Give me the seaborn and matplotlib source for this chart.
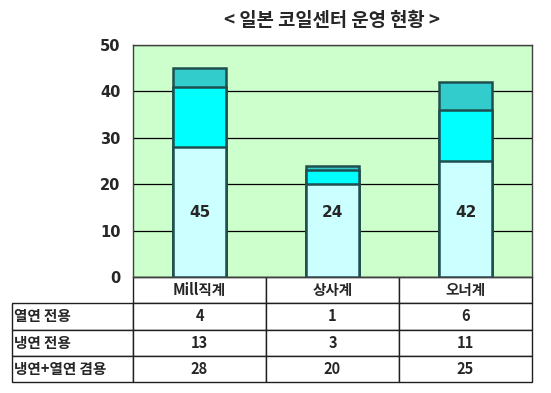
import matplotlib
matplotlib.use('Agg')
import matplotlib.pyplot as plt
import seaborn as sns
import pandas as pd

# data
categories = ['Mill직계', '상사계', '오너계']
series_names = ['열연 전용', '냉연 전용', '냉연+열연 겸용']
hot_only = [4, 1, 6]
cold_only = [13, 3, 11]
combined = [28, 20, 25]
totals = [45, 24, 42]

sns.set_style('white')
plt.rcParams['font.family'] = ['Noto Sans CJK KR', 'DejaVu Sans']
plt.rcParams['font.weight'] = 'bold'

fig = plt.figure(figsize=(5.51, 3.93), dpi=100)
ax = fig.add_axes([133 / 551, 1 - 277 / 393, 399 / 551, 232 / 393])
ax.set_facecolor('#CCFFCC')

df = pd.DataFrame({'cat': categories, 'combined': combined,
                   'cold': cold_only, 'hot': hot_only})
df['mid'] = df['combined'] + df['cold']
df['top'] = df['mid'] + df['hot']

# stacked look: draw the cumulative heights from tallest to shortest
layers = [('top', '#33CCCC'), ('mid', '#00FFFF'), ('combined', '#CCFFFF')]
for col, color in layers:
    sns.barplot(data=df, x='cat', y=col, color=color, width=0.4,
                edgecolor='#1F4F4F', linewidth=1.8, saturation=1, ax=ax, zorder=3)

for i, t in enumerate(totals):
    ax.text(i, 14, str(t), ha='center', va='center', fontsize=11,
            fontweight='bold', family='DejaVu Sans', zorder=5)

ax.set_ylim(0, 50)
ax.set_xlim(-0.5, 2.5)
ax.set_yticks(range(0, 51, 10))
ax.set_yticklabels([str(v) for v in range(0, 51, 10)], fontsize=10.5,
                   fontweight='bold', family='DejaVu Sans')
ax.tick_params(axis='y', length=0, pad=9)
ax.set_xticks([])
ax.set_xlabel('')
ax.set_ylabel('')
ax.yaxis.grid(True, color='black', linewidth=0.9, zorder=0)
ax.set_axisbelow(True)
for s in ax.spines.values():
    s.set_color('#404040')
    s.set_linewidth(1.0)

# data table under the plot
rows = [[''] + categories]
rows.append([series_names[0]] + [str(v) for v in hot_only])
rows.append([series_names[1]] + [str(v) for v in cold_only])
rows.append([series_names[2]] + [str(v) for v in combined])

left = (12 - 133) / 399
tab = ax.table(cellText=rows, colWidths=[121, 133, 133, 133],
               bbox=[left, (277 - 382) / 232, 1 - left, 105 / 232],
               cellLoc='center')
tab.auto_set_font_size(False)
for (r, c), cell in tab.get_celld().items():
    cell.set_edgecolor('#202020')
    cell.set_linewidth(1.0)
    cell.get_text().set_fontsize(10.5)
    cell.get_text().set_fontweight('black')
    if r == 0 and c == 0:
        cell.visible_edges = ''
    if c == 0 and r > 0:
        cell.get_text().set_ha('left')
        cell.PAD = 0.015

fig.text(0.6025, 1 - 20 / 393, '< 일본 코일센터 운영 현황 >', ha='center',
         va='center', fontsize=13.5, fontweight='black')

fig.savefig('out.png', dpi=100)
